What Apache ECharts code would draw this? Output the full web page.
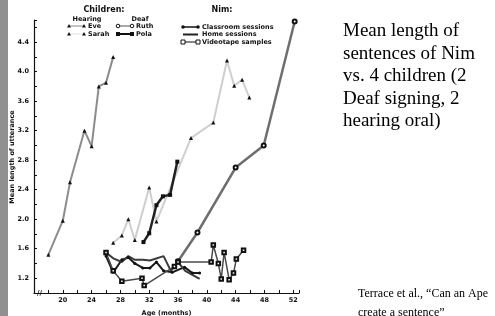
<!DOCTYPE html>
<html>
<head>
<meta charset="utf-8">
<script src="https://cdn.jsdelivr.net/npm/echarts@6/dist/echarts.min.js"></script>
<style>
html, body { margin: 0; padding: 0; background: #fff; }
#chart { width: 495px; height: 316px; }
</style>
</head>
<body>
<div id="chart"></div>
<script>
// values: [age in months, mean length of utterance]
const eve = [[18, 1.52], [20, 1.98], [21, 2.5], [23, 3.2], [24, 2.99], [25, 3.8], [26, 3.85], [27, 4.2]];
const sarah = [[27, 1.68], [28.2, 1.78], [29.1, 2.0], [30, 1.72], [32, 2.43], [33, 1.97], [37.8, 3.1], [40.9, 3.31], [42.8, 4.15], [43.8, 3.81], [44.9, 3.89], [45.9, 3.65]];
const ruth = [[36, 1.43], [38.7, 1.82], [44, 2.7], [47.9, 3.0], [52.2, 4.68]];
const pola = [[31.2, 1.69], [32, 1.81], [33, 2.19], [33.9, 2.31], [34.9, 2.33], [35.9, 2.78]];
const classroom = [[26, 1.5], [27, 1.28], [28.2, 1.45], [29.1, 1.48], [30, 1.4], [31.1, 1.34], [32.1, 1.34], [33, 1.42], [34, 1.3], [35.2, 1.28], [36.9, 1.35], [38, 1.27], [39, 1.27]];
const home = [[26, 1.55], [27, 1.47], [28.2, 1.42], [29.1, 1.5], [30, 1.45], [31.1, 1.45], [32.1, 1.44], [34, 1.5], [35, 1.3], [36, 1.42], [37, 1.3], [39, 1.19]];
const videotape = [[26, 1.55], [27, 1.3], [28.2, 1.16], [31, 1.2], [31.3, 1.1], [35.5, 1.36], [36, 1.42], [40.6, 1.42], [40.9, 1.65], [41.6, 1.4], [42, 1.19], [42.4, 1.55], [43.1, 1.18], [43.7, 1.27], [44.1, 1.46], [45.1, 1.58]];

const xTickLabels = [20, 24, 28, 32, 36, 40, 44, 48, 52];
const yTickLabels = [1.2, 1.6, 2.0, 2.4, 2.8, 3.2, 3.6, 4.0, 4.4];

const axisFont = { fontFamily: 'DejaVu Sans', fontSize: 6.5, fontWeight: 'bold', color: '#111' };
const legendFont = { fontFamily: 'DejaVu Sans', fontSize: 6.5, fontWeight: 'bold', fill: '#111' };

function inList(list, v) {
  return list.some(t => Math.abs(t - v) < 1e-6);
}

// small legend sample: line with a marker at each end, plus the label
function legendRow(x1, x2, y, color, width, sym, label) {
  const els = [{
    type: 'line',
    shape: { x1: x1, y1: y, x2: x2, y2: y },
    style: { stroke: color, lineWidth: width }
  }];
  [x1, x2].forEach(x => {
    if (sym === 'tri') {
      els.push({ type: 'polygon', shape: { points: [[x - 2, y + 1.5], [x + 2, y + 1.5], [x, y - 2]] }, style: { fill: '#111' } });
    } else if (sym === 'circ') {
      els.push({ type: 'circle', shape: { cx: x, cy: y, r: 1.8 }, style: { fill: '#fff', stroke: '#111', lineWidth: 1 } });
    } else if (sym === 'sq') {
      els.push({ type: 'rect', shape: { x: x - 2, y: y - 2, width: 4, height: 4 }, style: { fill: '#111' } });
    } else if (sym === 'osq') {
      els.push({ type: 'rect', shape: { x: x - 2, y: y - 2, width: 4, height: 4 }, style: { fill: '#fff', stroke: '#111', lineWidth: 1 } });
    } else if (sym === 'dot') {
      els.push({ type: 'circle', shape: { cx: x, cy: y, r: 1.8 }, style: { fill: '#111' } });
    }
  });
  els.push({ type: 'text', x: x2 + 4, y: y, style: Object.assign({ text: label, verticalAlign: 'middle' }, legendFont) });
  return els;
}

const myChart = echarts.init(document.getElementById('chart'), null, { renderer: 'canvas' });

const graphics = [
  // grey strip on the slide's left edge
  { type: 'rect', shape: { x: 0, y: 0, width: 8, height: 316 }, style: { fill: '#909090' } },
  // y axis title, drawn by hand so it sits where the scan has it
  {
    type: 'text', x: 12, y: 157, rotation: Math.PI / 2,
    style: Object.assign({ text: 'Mean length of utterance', align: 'center', verticalAlign: 'middle' }, legendFont)
  },
  // axis break marks
  { type: 'text', x: 37, y: 293, style: { text: '//', fontFamily: 'DejaVu Sans', fontSize: 7, fontWeight: 'bold', fill: '#111', verticalAlign: 'middle' } },
  { type: 'text', x: 104, y: 10, style: Object.assign({ text: 'Children:', align: 'center', verticalAlign: 'middle' }, legendFont, { fontSize: 8 }) },
  { type: 'text', x: 87, y: 19, style: Object.assign({ text: 'Hearing', align: 'center', verticalAlign: 'middle' }, legendFont) },
  { type: 'text', x: 140, y: 19, style: Object.assign({ text: 'Deaf', align: 'center', verticalAlign: 'middle' }, legendFont) },
  { type: 'text', x: 222, y: 10, style: Object.assign({ text: 'Nim:', align: 'center', verticalAlign: 'middle' }, legendFont, { fontSize: 8 }) },
  ...legendRow(69, 84, 26, '#888', 1, 'tri', 'Eve'),
  ...legendRow(69, 84, 34, '#ccc', 0.6, 'tri', 'Sarah'),
  ...legendRow(118, 132, 26, '#555', 1, 'circ', 'Ruth'),
  ...legendRow(118, 132, 34, '#111', 2, 'sq', 'Pola'),
  ...legendRow(183, 198, 27, '#111', 1.5, 'dot', 'Classroom sessions'),
  ...legendRow(183, 198, 34.5, '#222', 2, 'none', 'Home sessions'),
  ...legendRow(183, 198, 42, '#333', 1.2, 'osq', 'Videotape samples'),
  // slide text on the right
  {
    type: 'text', x: 343, y: 20,
    style: {
      text: 'Mean length of\nsentences of Nim\nvs. 4 children (2\nDeaf signing, 2\nhearing oral)',
      fontFamily: 'Liberation Serif', fontSize: 19, lineHeight: 22.5, fill: '#000'
    }
  },
  {
    type: 'text', x: 358, y: 284,
    style: {
      text: 'Terrace et al., \u201cCan an Ape\ncreate a sentence\u201d',
      fontFamily: 'Liberation Serif', fontSize: 12, lineHeight: 19, fill: '#000'
    }
  }
];

function lineSeries(name, data, color, width, symbol, size) {
  return {
    name: name,
    type: 'line',
    data: data,
    symbol: symbol,
    symbolSize: size,
    showSymbol: symbol !== 'none',
    showAllSymbol: true,
    lineStyle: { color: color, width: width },
    itemStyle: { color: '#111', borderWidth: 1 },
    z: 3
  };
}

const option = {
  animation: false,
  backgroundColor: '#fff',
  grid: { left: 34, right: 196, top: 20, bottom: 23, outerBoundsMode: 'none', containLabel: false },
  xAxis: {
    type: 'value',
    min: 16,
    max: 52.8,
    interval: 2,
    name: 'Age (months)',
    nameLocation: 'middle',
    nameGap: 17,
    nameTextStyle: axisFont,
    axisLine: { lineStyle: { color: '#111', width: 1.2 } },
    axisTick: { inside: true, length: 3, lineStyle: { color: '#111' } },
    axisLabel: {
      margin: 4,
      ...axisFont,
      formatter: v => inList(xTickLabels, v) ? String(v) : ''
    },
    splitLine: { show: false }
  },
  yAxis: {
    type: 'value',
    min: 1.0,
    max: 4.7,
    interval: 0.2,
    axisLine: { show: true, lineStyle: { color: '#111', width: 1.2 } },
    axisTick: { show: true, inside: true, length: 3, lineStyle: { color: '#111' } },
    axisLabel: {
      margin: 5,
      ...axisFont,
      formatter: v => inList(yTickLabels, v) ? v.toFixed(1) : ''
    },
    splitLine: { show: false }
  },
  series: [
    lineSeries('Eve', eve, '#8c8c8c', 2, 'triangle', 4),
    lineSeries('Sarah', sarah, '#cfcfcf', 2, 'triangle', 4),
    lineSeries('Ruth', ruth, '#6e6e6e', 2.5, 'emptyCircle', 4),
    lineSeries('Pola', pola, '#222', 2.5, 'rect', 4),
    lineSeries('Classroom sessions', classroom, '#1a1a1a', 2, 'circle', 3),
    lineSeries('Home sessions', home, '#3a3a3a', 2, 'none', 0),
    lineSeries('Videotape samples', videotape, '#4a4a4a', 1.5, 'emptyRect', 3.5)
  ],
  graphic: graphics
};

myChart.setOption(option);

window.addEventListener('resize', () => {
  myChart.resize();
});
</script>
</body>
</html>
